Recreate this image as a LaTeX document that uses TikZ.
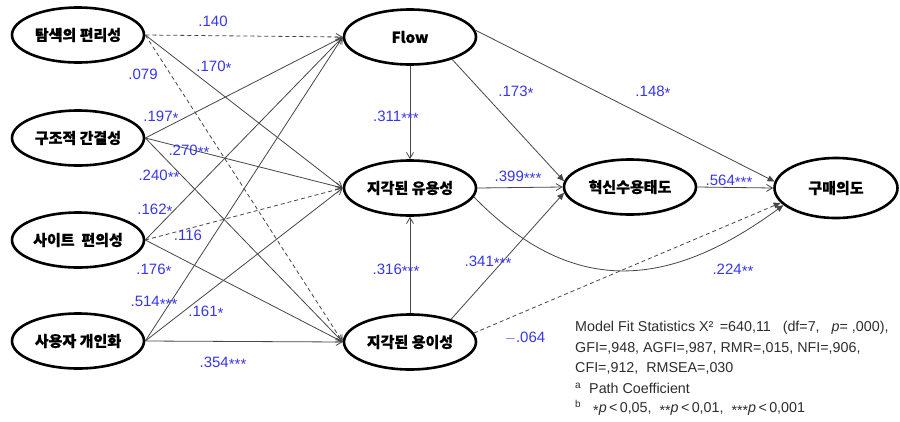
\documentclass[tikz,border=0pt]{standalone}
\usepackage{fontspec}
\setmainfont{Liberation Sans}
\newfontfamily\kr{Noto Sans CJK KR}[BoldFeatures={FakeBold=0.6}]
\usetikzlibrary{shapes.geometric,arrows.meta}
\definecolor{coefblue}{RGB}{55,55,235}
\definecolor{edgegray}{RGB}{70,70,70}
\definecolor{notegray}{RGB}{45,45,45}
% significance star, set low as in the path labels
\newcommand\sg{\raisebox{-0.3ex}{*}}
% "less than" with a little air round it
\newcommand\lessp{\,<\,}

\begin{document}
\begin{tikzpicture}[x=1pt,y=-1pt,
  var/.style={ellipse,draw=black,fill=white,line width=2.6pt,
    minimum width=132pt,minimum height=55pt,inner sep=0pt,
    font=\kr\bfseries\fontsize{15}{15}\selectfont},
  openpath/.style={draw=edgegray,line width=0.8pt,-{Straight Barb[length=6pt,width=7pt]}},
  fillpath/.style={draw=edgegray,line width=0.8pt,-{Triangle[length=7pt,width=6pt]}},
  ns/.style={dash pattern=on 4pt off 3pt},
  coef/.style={text=coefblue,font=\fontsize{15}{15}\selectfont,inner sep=0pt},
  fitline/.style={text=notegray,font=\fontsize{14.3}{15}\selectfont,anchor=west,inner sep=0pt}]
\useasboundingbox[fill=white] (0,0) rectangle (900,421);

% latent variables
\node[var] (tam)    at (78,35)   {탐색의 편리성};
\node[var] (gu)     at (78,138)  {구조적 간결성};
\node[var] (sa)     at (78,240)  {사이트\ \ 편의성};
\node[var] (user)   at (78,341)  {사용자 개인화};
\node[var] (flow)   at (410,37)  {Flow};
\node[var] (useful) at (410,188) {지각된 유용성};
\node[var] (ease)   at (410,342) {지각된 용이성};
\node[var] (attit)  at (630,187) {혁신수용태도};
\node[var,minimum width=123pt,minimum height=60pt] (buy) at (836,188) {구매의도};

% exogenous paths
\draw[openpath,ns] (tam.east) -- (flow.west);
\draw[openpath]    (tam.east) -- (useful.west);
\draw[openpath,ns] (tam.east) -- (ease.west);
\draw[openpath]    (gu.east) -- (flow.west);
\draw[openpath]    (gu.east) -- (useful.west);
\draw[openpath]    (gu.east) -- (ease.west);
\draw[openpath]    (sa.east) -- (flow.west);
\draw[openpath,ns] (sa.east) -- (useful.west);
\draw[openpath]    (sa.east) -- (ease.west);
\draw[openpath]    (user.east) -- (flow.west);
\draw[openpath]    (user.east) -- (useful.west);
\draw[openpath]    (user.east) -- (ease.west);

% mediating paths
\draw[openpath] (flow.south) -- (useful.north);
\draw[openpath] (ease.north) -- (useful.south);
\draw[fillpath] (flow.-28) -- (attit.175);
\draw[openpath] (useful.east) -- (attit.west);
\draw[fillpath] (ease.29) -- (attit.185);
\draw[fillpath] (flow.6) -- (buy.174);
\draw[openpath] (attit.east) -- (buy.west);
\draw[fillpath,ns] (ease.8) -- (buy.195);
\draw[fillpath] (useful.-8) .. controls (570,295) and (665,292) .. (buy.198);

% path coefficients
\node[coef] (c1)  at (213,21)  {.140};
\node[coef] (c2)  at (214,67)  {.170\sg};
\node[coef] (c3)  at (143,74)  {.079};
\node[coef] (c4)  at (161,117) {.197\sg};
\node[coef] (c5)  at (189,151) {.270\sg\sg};
\node[coef] (c6)  at (159,176) {.240\sg\sg};
\node[coef] (c7)  at (155,210) {.162\sg};
\node[coef] (c8)  at (188,235) {.116};
\node[coef] (c9)  at (154,270) {.176\sg};
\node[coef] (c10) at (154,303) {.514\sg\sg\sg};
\node[coef] (c11) at (206,312) {.161\sg};
\node[coef] (c12) at (223,363) {.354\sg\sg\sg};
\node[coef] (c13) at (396,117) {.311\sg\sg\sg};
\node[coef] (c14) at (516,92)  {.173\sg};
\node[coef] (c15) at (518,177) {.399\sg\sg\sg};
\node[coef] (c16) at (396,270) {.316\sg\sg\sg};
\node[coef] (c17) at (488,262) {.341\sg\sg\sg};
\node[coef] (c18) at (525,338) {$-$.064};
\node[coef] (c19) at (653,92)  {.148\sg};
\node[coef] (c20) at (729,181) {.564\sg\sg\sg};
\node[coef] (c21) at (733,270) {.224\sg\sg};

% fit statistics
\node[fitline] (f1) at (575,328) {Model Fit Statistics X²\,\ =640,11\ \ \ (df=7,\ \ \ \textit{p}=\ ,000),};
\node[fitline] (f2) at (575,348) {GFI=,948, AGFI=,987, RMR=,015, NFI=,906,};
\node[fitline] (f3) at (575,368) {CFI=,912,\ \ RMSEA=,030};
\node[fitline] (f4) at (575,388) {\textsuperscript{a}\ \ Path Coefficient};
\node[fitline] (f5) at (575,408) {\textsuperscript{b}\ \ \ \sg\textit{p}\lessp0,05,\ \ \sg\sg\textit{p}\lessp0,01,\ \ \sg\sg\sg\textit{p}\lessp0,001};
\end{tikzpicture}
\end{document}
